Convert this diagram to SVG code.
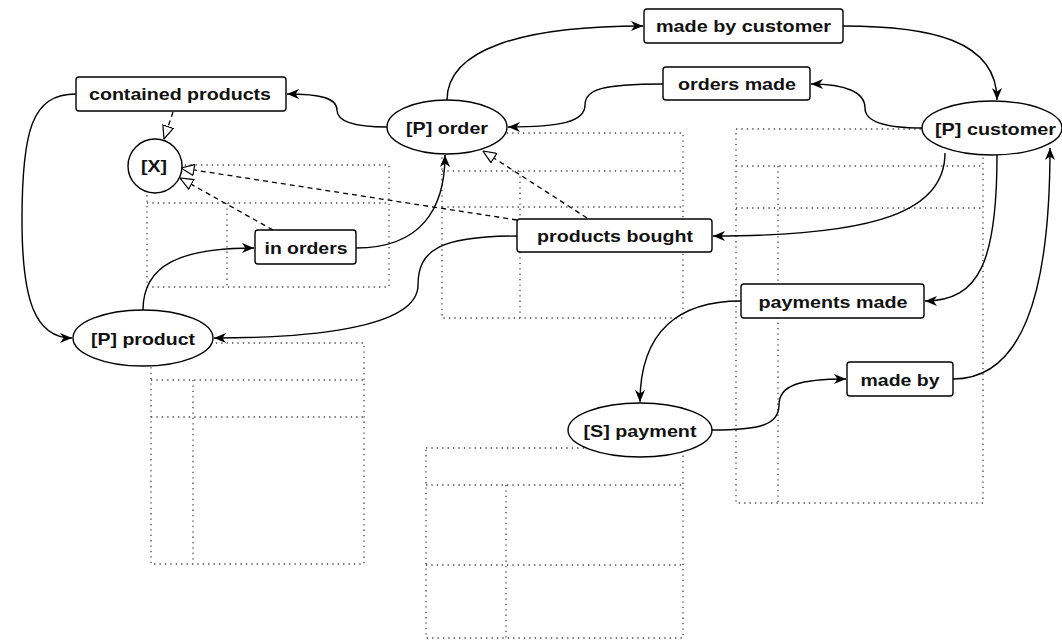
<svg xmlns="http://www.w3.org/2000/svg" width="1062" height="641" viewBox="0 0 1062 641">
  <style>
    .grid { fill: none; stroke: #444; stroke-width: 1.3; stroke-dasharray: 1.3 4.1; }
    .edge { fill: none; stroke: #000; stroke-width: 1.4; }
    .inh { fill: none; stroke: #000; stroke-width: 1.3; stroke-dasharray: 5 4; }
    .box { fill: #fff; stroke: #000; stroke-width: 1.4; }
    .lbl { font-family: "Liberation Sans", Arial, Helvetica, sans-serif; font-size: 17px; font-weight: bold; fill: #111; text-anchor: middle; }
  </style>
  <defs>
    <marker id="arrow" viewBox="0 0 12 10" markerWidth="12" markerHeight="10" refX="12" refY="5" orient="auto" markerUnits="userSpaceOnUse">
      <path d="M0,0 L12,5 L0,10 L3.5,5 Z" fill="#000"/>
    </marker>
    <marker id="hollow" viewBox="0 0 14 12" markerWidth="14" markerHeight="12" refX="13.5" refY="6" orient="auto" markerUnits="userSpaceOnUse">
      <path d="M0.5,0.5 L13.5,6 L0.5,11.5 Z" fill="#fff" stroke="#000" stroke-width="1.2"/>
    </marker>
  </defs>

  <!-- dotted table layouts -->
  <g id="layouts">
    <path class="grid" d="M147,165 H389 V287 H147 Z M147,203 H389 M227,203 V287"/>
    <path class="grid" d="M442,133 H683 V318 H442 Z M442,171 H683 M442,207 H683 M520,171 V318"/>
    <path class="grid" d="M736,129 H983 V503 H736 Z M736,166 H983 M736,208 H983 M778,166 V503"/>
    <path class="grid" d="M151,343 H364 V564 H151 Z M151,380 H364 M151,417 H364 M193,380 V564"/>
    <path class="grid" d="M426,448 H683 V638 H426 Z M426,485 H683 M426,565 H683 M506,485 V638"/>
  </g>

  <!-- connectors -->
  <g id="connectors">
    <path class="edge" marker-end="url(#arrow)" d="M447,100 C447,50 520,26 643,26"/>
    <path class="edge" marker-end="url(#arrow)" d="M843,26 C930,26 997,40 997,100"/>
    <path class="edge" marker-end="url(#arrow)" d="M922,128 C880,128 865,120 865,108 C865,92 845,84 811,84"/>
    <path class="edge" marker-end="url(#arrow)" d="M663,84 C600,84 585,90 585,105 C585,122 560,127 508,127"/>
    <path class="edge" marker-end="url(#arrow)" d="M387,127 C350,127 337,120 337,110 C337,98 320,94 287,94"/>
    <path class="edge" marker-end="url(#arrow)" d="M76,94 C32,94 22,130 22,220 C22,300 35,338 72,338"/>
    <path class="edge" marker-end="url(#arrow)" d="M143,310 C143,265 180,248 254,248"/>
    <path class="edge" marker-end="url(#arrow)" d="M356,248 C420,248 445,210 445,155"/>
    <path class="edge" marker-end="url(#arrow)" d="M517,236 C440,236 418,250 418,285 C418,330 300,338 214,338"/>
    <path class="edge" marker-end="url(#arrow)" d="M945,153 C945,210 880,236 713,236"/>
    <path class="edge" marker-end="url(#arrow)" d="M997,155 C997,260 980,301 925,301"/>
    <path class="edge" marker-end="url(#arrow)" d="M953,379 C1020,379 1050,300 1050,148"/>
    <path class="edge" marker-end="url(#arrow)" d="M741,301 C680,301 640,330 640,402"/>
    <path class="edge" marker-end="url(#arrow)" d="M712,430 C760,430 779,425 779,405 C779,385 800,379 846,379"/>
    <path class="inh" marker-end="url(#hollow)" d="M173,112 L164,139"/>
    <path class="inh" marker-end="url(#hollow)" d="M517,220 L181,168"/>
    <path class="inh" marker-end="url(#hollow)" d="M273,230 L180,178"/>
    <path class="inh" marker-end="url(#hollow)" d="M587,218 L483,151"/>
  </g>

  <!-- nodes -->
  <g id="made-by-customer">
    <rect class="box" x="644" y="9" width="199" height="34" rx="3"/>
    <text class="lbl" x="743.5" y="32" textLength="175" lengthAdjust="spacingAndGlyphs">made by customer</text>
  </g>
  <g id="orders-made">
    <rect class="box" x="663" y="67" width="147" height="33" rx="3"/>
    <text class="lbl" x="737" y="89.5" textLength="118" lengthAdjust="spacingAndGlyphs">orders made</text>
  </g>
  <g id="contained-products">
    <rect class="box" x="76" y="77" width="210" height="34" rx="3"/>
    <text class="lbl" x="180" y="100" textLength="182" lengthAdjust="spacingAndGlyphs">contained products</text>
  </g>
  <g id="x-node">
    <circle class="box" cx="155" cy="166" r="27"/>
    <text class="lbl" x="154" y="172" textLength="26" lengthAdjust="spacingAndGlyphs">[X]</text>
  </g>
  <g id="order">
    <ellipse class="box" cx="447" cy="127" rx="60" ry="27"/>
    <text class="lbl" x="447" y="133.5" textLength="82" lengthAdjust="spacingAndGlyphs">[P] order</text>
  </g>
  <g id="customer">
    <ellipse class="box" cx="992" cy="128" rx="70" ry="27"/>
    <text class="lbl" x="995.5" y="134.5" textLength="121" lengthAdjust="spacingAndGlyphs">[P] customer</text>
  </g>
  <g id="in-orders">
    <rect class="box" x="255" y="230" width="101" height="34" rx="3"/>
    <text class="lbl" x="306" y="253.5" textLength="83" lengthAdjust="spacingAndGlyphs">in orders</text>
  </g>
  <g id="products-bought">
    <rect class="box" x="517" y="219" width="195" height="33" rx="3"/>
    <text class="lbl" x="615" y="241.5" textLength="156" lengthAdjust="spacingAndGlyphs">products bought</text>
  </g>
  <g id="product">
    <ellipse class="box" cx="143" cy="338" rx="70" ry="28"/>
    <text class="lbl" x="143" y="344.5" textLength="104" lengthAdjust="spacingAndGlyphs">[P] product</text>
  </g>
  <g id="payments-made">
    <rect class="box" x="741" y="284" width="183" height="34" rx="3"/>
    <text class="lbl" x="833" y="307.5" textLength="149" lengthAdjust="spacingAndGlyphs">payments made</text>
  </g>
  <g id="made-by">
    <rect class="box" x="847" y="362" width="106" height="34" rx="3"/>
    <text class="lbl" x="900" y="385.5" textLength="79" lengthAdjust="spacingAndGlyphs">made by</text>
  </g>
  <g id="payment">
    <ellipse class="box" cx="640" cy="430" rx="72" ry="27"/>
    <text class="lbl" x="640" y="436.5" textLength="113" lengthAdjust="spacingAndGlyphs">[S] payment</text>
  </g>
</svg>
